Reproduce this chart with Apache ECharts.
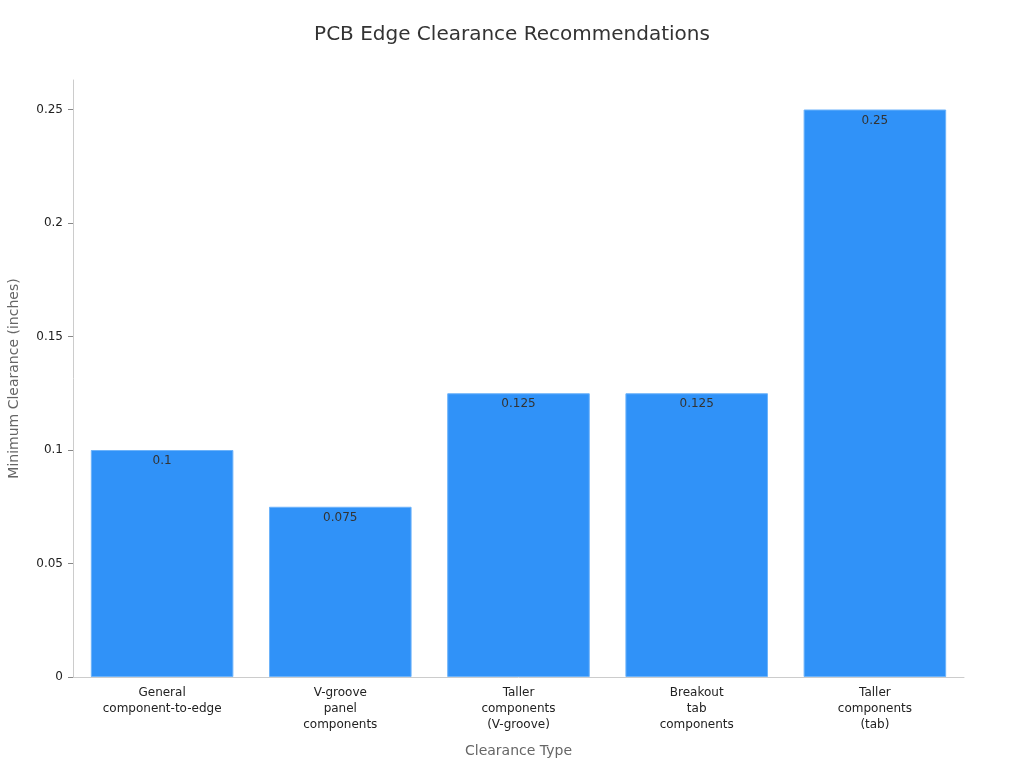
<!DOCTYPE html>
<html>
<head>
<meta charset="utf-8">
<script src="https://cdn.jsdelivr.net/npm/echarts@6/dist/echarts.min.js"></script>
<style>
html,body{margin:0;padding:0;background:#fff;}
#chart{width:1024px;height:768px;}
</style>
</head>
<body>
<div id="chart"></div>
<script>
const categories = [
  "General\ncomponent-to-edge",
  "V-groove\npanel\ncomponents",
  "Taller\ncomponents\n(V-groove)",
  "Breakout\ntab\ncomponents",
  "Taller\ncomponents\n(tab)"
];
const clearanceValues = [0.1, 0.075, 0.125, 0.125, 0.25];
const yTickValues = [0, 0.05, 0.1, 0.15, 0.2, 0.25];

const chart = echarts.init(document.getElementById('chart'));
const font = "DejaVu Sans";
chart.setOption({
  animation: false,
  textStyle: { fontFamily: font },
  title: {
    text: "PCB Edge Clearance Recommendations",
    left: 'center',
    top: 20,
    textStyle: { fontSize: 20, fontWeight: 'normal', color: '#333', fontFamily: font }
  },
  grid: { left: 73, right: 60, top: 80, bottom: 91, containLabel: false, outerBoundsMode: 'none' },
  xAxis: {
    type: 'category',
    data: categories,
    name: "Clearance Type",
    nameLocation: 'middle',
    nameGap: 67,
    nameTextStyle: { fontSize: 14, color: '#666', fontFamily: font },
    axisLine: { lineStyle: { color: '#ccc' } },
    axisTick: { alignWithLabel: true, lineStyle: { color: '#888' } },
    axisLabel: { fontSize: 12, color: '#222', lineHeight: 16, margin: 8, interval: 0, fontFamily: font }
  },
  yAxis: {
    type: 'value',
    min: 0,
    max: 0.263,
    name: "Minimum Clearance (inches)",
    nameLocation: 'middle',
    nameGap: 52,
    nameTextStyle: { fontSize: 14, color: '#666', fontFamily: font },
    axisLine: { show: true, lineStyle: { color: '#ccc' } },
    axisTick: { show: true, customValues: yTickValues, lineStyle: { color: '#888' } },
    axisLabel: { customValues: yTickValues, fontSize: 12, color: '#222', margin: 10, fontFamily: font },
    splitLine: { show: false }
  },
  series: [{
    type: 'bar',
    data: clearanceValues,
    barCategoryGap: '20%',
    itemStyle: { color: '#3092f8', borderColor: '#6db3fa', borderWidth: 1 },
    label: {
      show: true,
      position: 'insideTop',
      fontSize: 12,
      color: '#333',
      fontFamily: font
    }
  }]
});
</script>
</body>
</html>
